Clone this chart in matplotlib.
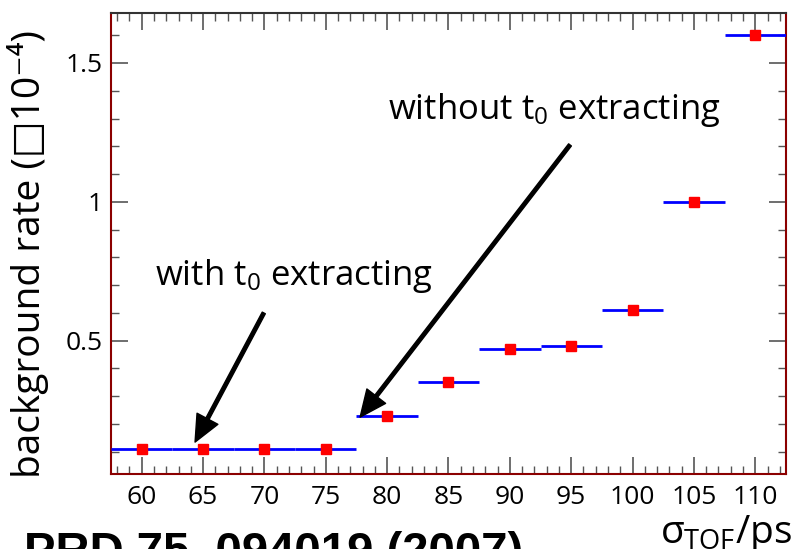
import numpy as np
import matplotlib
matplotlib.use("Agg")
import matplotlib.pyplot as plt
from matplotlib.ticker import MultipleLocator

plt.rcParams['font.family'] = ['Open Sans', 'DejaVu Sans']
plt.rcParams['mathtext.fontset'] = 'custom'
plt.rcParams['mathtext.rm'] = 'Open Sans'
plt.rcParams['mathtext.it'] = 'Open Sans'

# sigma_TOF bin centres (ps) and background rate (x 1e-4)
sigma_tof = [60, 65, 70, 75, 80, 85, 90, 95, 100, 105, 110]
bkg_rate = [0.11, 0.11, 0.11, 0.11, 0.23, 0.35, 0.47, 0.48, 0.61, 1.00, 1.60]
bin_half = 2.5

W, H = 795, 549
fig = plt.figure(figsize=(W/100, H/100), dpi=100)
ax = fig.add_axes([111/W, 1-474/H, (786-111)/W, (474-13)/H])

ax.errorbar(sigma_tof, bkg_rate, xerr=bin_half, fmt='s', color='red',
            ms=6.5, ecolor='#0000ff', elinewidth=2, capsize=0, zorder=3)

ax.set_xlim(57.5, 112.5)
ax.set_ylim(0.02, 1.68)
ax.set_xticks(sigma_tof)
ax.set_yticks([0.5, 1.0, 1.5])
ax.set_yticklabels(['0.5', '1', '1.5'])
ax.xaxis.set_minor_locator(MultipleLocator(1))
ax.yaxis.set_minor_locator(MultipleLocator(0.1))
ax.tick_params(which='both', direction='in', top=True, right=True,
               color='#555555', labelsize=19)
ax.tick_params(which='major', length=12, width=1.2)
ax.tick_params(which='minor', length=6, width=1.0)
ax.tick_params(axis='x', pad=8)
ax.tick_params(axis='y', pad=6)

for side in ['left', 'bottom', 'right']:
    ax.spines[side].set_color('#8b0000')
    ax.spines[side].set_linewidth(1.5)
ax.spines['top'].set_color('#333333')
ax.spines['top'].set_linewidth(1.5)

fig.text(28/W, 1-254/H, 'background rate (\u25a110\u207b\u2074)', fontsize=28,
         rotation=90, ha='center', va='center',
         family=['Open Sans', 'DejaVu Sans'])

# arrows pointing at the with / without t0 results
arrow = dict(facecolor='black', edgecolor='black', width=2.5,
             headwidth=17, headlength=19, shrink=0)
ax.annotate('', xy=(64.35, 0.135), xytext=(69.95, 0.60), arrowprops=arrow)
ax.text(61.1, 0.70, 'with t$_0$ extracting', fontsize=25,
        ha='left', va='baseline')

ax.annotate('', xy=(77.8, 0.225), xytext=(94.9, 1.205), arrowprops=arrow)
ax.text(80.1, 1.30, 'without t$_0$ extracting', fontsize=25,
        ha='left', va='baseline')

fig.text(792/W, 1-543/H, r'$\sigma_{\rm TOF}$/ps', fontsize=28,
         ha='right', va='baseline')
fig.text(24/W, 1-531/H, 'PRD 75, 094019 (2007)', fontsize=34,
         fontweight='bold', family='Liberation Sans', ha='left', va='top')

fig.savefig('out.png', dpi=100)
